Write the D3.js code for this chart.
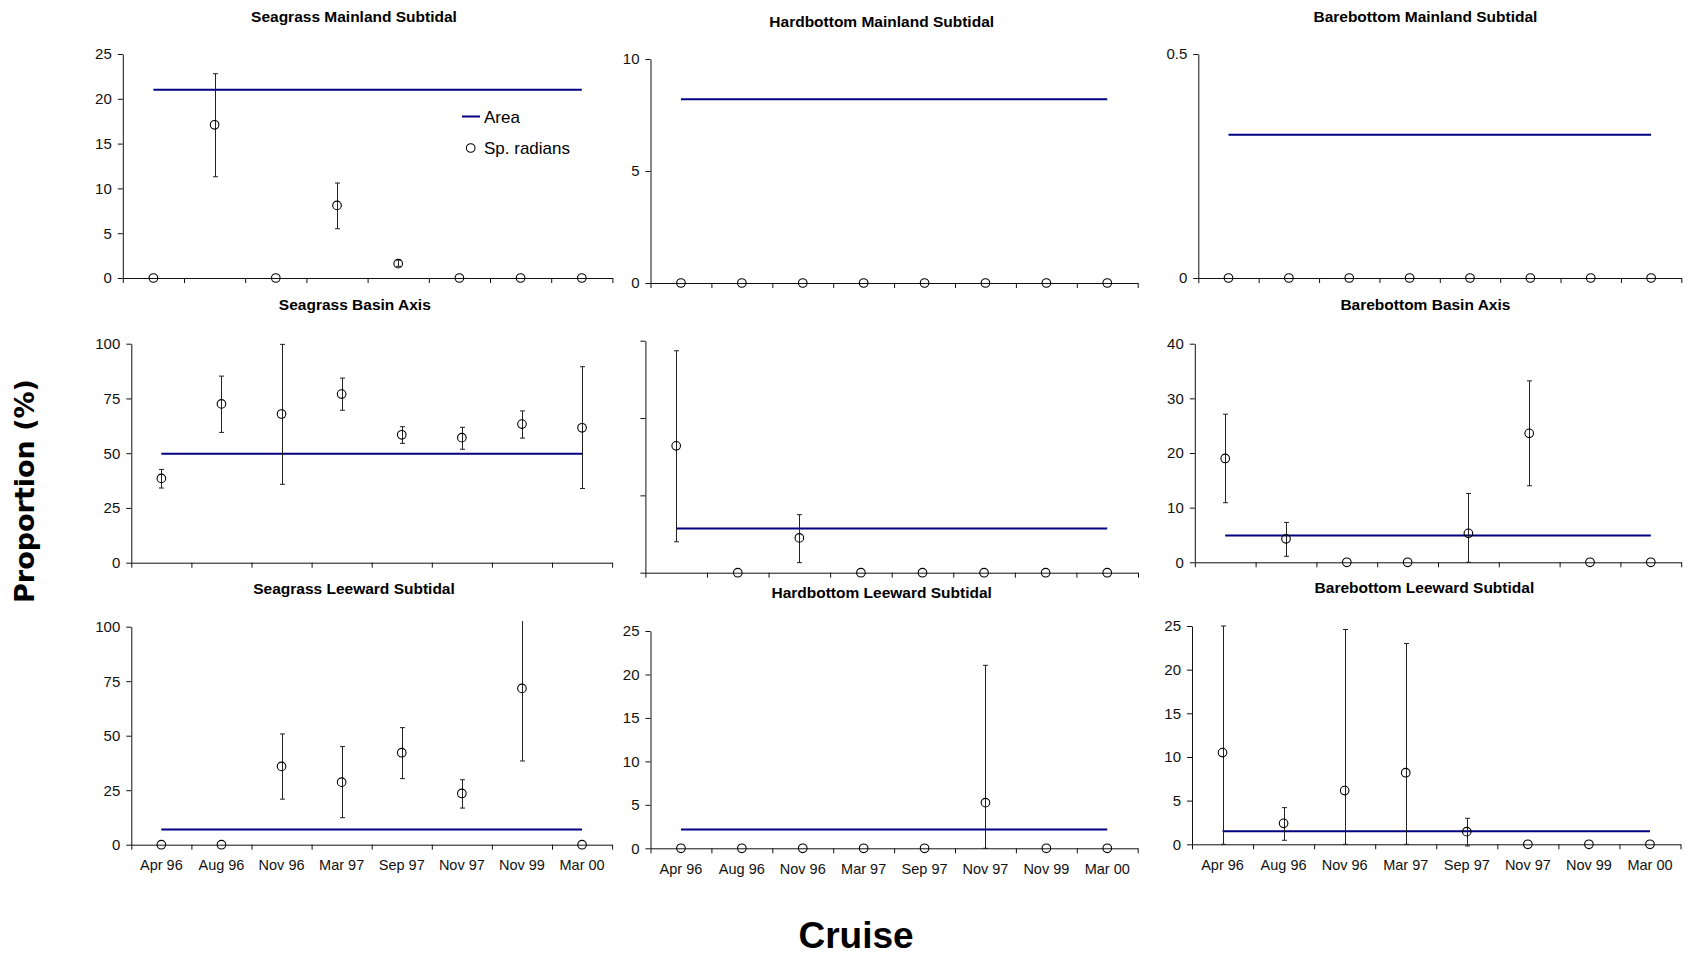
<!DOCTYPE html>
<html>
<head>
<meta charset="utf-8">
<script src="https://cdn.jsdelivr.net/npm/d3@7"></script>
<style>
  html, body { margin: 0; padding: 0; background: #fff; }
  svg { display: block; }
</style>
</head>
<body>
<svg id="chart" width="1687" height="956"></svg>
<script>
// Sampling cruises (shared x categories)
const categories = ["Apr 96", "Aug 96", "Nov 96", "Mar 97", "Sep 97", "Nov 97", "Nov 99", "Mar 00"];

// Seagrass Mainland Subtidal
const sgMainMean = [0, 17.1, 0, 8.1, 1.6, 0, 0, 0];
const sgMainLow  = [null, 11.3, null, 5.5, 1.3, null, null, null];
const sgMainHigh = [null, 22.8, null, 10.6, 2.0, null, null, null];
const sgMainArea = 21.0;
const sgMainTicks = [0, 5, 10, 15, 20, 25];

// Hardbottom Mainland Subtidal
const hbMainMean = [0, 0, 0, 0, 0, 0, 0, 0];
const hbMainLow  = [null, null, null, null, null, null, null, null];
const hbMainHigh = [null, null, null, null, null, null, null, null];
const hbMainArea = 8.2;
const hbMainTicks = [0, 5, 10];

// Barebottom Mainland Subtidal
const bbMainMean = [0, 0, 0, 0, 0, 0, 0, 0];
const bbMainLow  = [null, null, null, null, null, null, null, null];
const bbMainHigh = [null, null, null, null, null, null, null, null];
const bbMainArea = 0.32;
const bbMainTicks = [0, 0.5];

// Seagrass Basin Axis
const sgBasinMean = [38.5, 72.5, 67.9, 77.0, 58.4, 57.1, 63.3, 61.6];
const sgBasinLow  = [34.1, 59.5, 35.8, 69.6, 54.5, 51.8, 56.9, 33.9];
const sgBasinHigh = [42.6, 85.2, 99.7, 84.3, 62.1, 61.8, 69.3, 89.5];
const sgBasinArea = 49.8;
const sgBasinTicks = [0, 25, 50, 75, 100];

// Hardbottom Basin Axis (axis drawn without labels)
const hbBasinMean = [16.4, 0, 4.5, 0, 0, 0, 0, 0];
const hbBasinLow  = [4.0, null, 1.3, null, null, null, null, null];
const hbBasinHigh = [28.7, null, 7.5, null, null, null, null, null];
const hbBasinArea = 5.7;
const hbBasinTicks = [0, 10, 20, 30];

// Barebottom Basin Axis
const bbBasinMean = [19.0, 4.3, 0, 0, 5.3, 23.6, 0, 0];
const bbBasinLow  = [10.9, 1.1, null, null, 0, 14.0, null, null];
const bbBasinHigh = [27.1, 7.3, null, null, 12.6, 33.2, null, null];
const bbBasinArea = 4.9;
const bbBasinTicks = [0, 10, 20, 30, 40];

// Seagrass Leeward Subtidal
const sgLeeMean = [0, 0, 35.9, 28.7, 42.2, 23.5, 71.7, 0];
const sgLeeLow  = [null, null, 20.9, 12.4, 30.3, 16.8, 38.4, null];
const sgLeeHigh = [null, null, 50.8, 45.0, 53.7, 29.8, 102.6, null];
const sgLeeArea = 7.0;
const sgLeeTicks = [0, 25, 50, 75, 100];

// Hardbottom Leeward Subtidal
const hbLeeMean = [0, 0, 0, 0, 0, 5.25, 0, 0];
const hbLeeLow  = [null, null, null, null, null, 0, null, null];
const hbLeeHigh = [null, null, null, null, null, 21.05, null, null];
const hbLeeArea = 2.15;
const hbLeeTicks = [0, 5, 10, 15, 20, 25];

// Barebottom Leeward Subtidal
const bbLeeMean = [10.5, 2.4, 6.15, 8.2, 1.45, 0, 0, 0];
const bbLeeLow  = [0, 0.46, 0, 0, -0.19, null, null, null];
const bbLeeHigh = [25.0, 4.2, 24.6, 23.0, 2.98, null, null, null];
const bbLeeArea = 1.5;
const bbLeeTicks = [0, 5, 10, 15, 20, 25];

const legendLabels = ["Area", "Sp. radians"];

// Panel definitions built from the arrays above
const panels = [
  { title: "Seagrass Mainland Subtidal",  mean: sgMainMean,  low: sgMainLow,  high: sgMainHigh,  area: sgMainArea,  ticks: sgMainTicks },
  { title: "Hardbottom Mainland Subtidal", mean: hbMainMean, low: hbMainLow,  high: hbMainHigh,  area: hbMainArea,  ticks: hbMainTicks },
  { title: "Barebottom Mainland Subtidal", mean: bbMainMean, low: bbMainLow,  high: bbMainHigh,  area: bbMainArea,  ticks: bbMainTicks },
  { title: "Seagrass Basin Axis",         mean: sgBasinMean, low: sgBasinLow, high: sgBasinHigh, area: sgBasinArea, ticks: sgBasinTicks },
  { title: "",                            mean: hbBasinMean, low: hbBasinLow, high: hbBasinHigh, area: hbBasinArea, ticks: hbBasinTicks, hideLabels: true },
  { title: "Barebottom Basin Axis",       mean: bbBasinMean, low: bbBasinLow, high: bbBasinHigh, area: bbBasinArea, ticks: bbBasinTicks },
  { title: "Seagrass Leeward Subtidal",   mean: sgLeeMean,   low: sgLeeLow,   high: sgLeeHigh,   area: sgLeeArea,   ticks: sgLeeTicks },
  { title: "Hardbottom Leeward Subtidal", mean: hbLeeMean,   low: hbLeeLow,   high: hbLeeHigh,   area: hbLeeArea,   ticks: hbLeeTicks },
  { title: "Barebottom Leeward Subtidal", mean: bbLeeMean,   low: bbLeeLow,   high: bbLeeHigh,   area: bbLeeArea,   ticks: bbLeeTicks }
];

// Plot frames: left/right of x axis, top/bottom of y axis, title anchor
const frames = [
  { x0: 122.8, x1: 612.4, yTop: 54,    yBot: 278,   tx: 354,   ty: 22 },
  { x0: 650.5, x1: 1137.7, yTop: 59,   yBot: 283,   tx: 881.7, ty: 27 },
  { x0: 1198.3, x1: 1681.3, yTop: 54,  yBot: 278,   tx: 1425.4, ty: 22 },
  { x0: 131.3, x1: 612.1, yTop: 343.7, yBot: 562.7, tx: 354.8, ty: 310 },
  { x0: 645.4, x1: 1138,  yTop: 340.7, yBot: 572.7, tx: 881.7, ty: 310 },
  { x0: 1194.8, x1: 1681.2, yTop: 343.7, yBot: 562.3, tx: 1425.4, ty: 310 },
  { x0: 131.3, x1: 612.1, yTop: 626.7, yBot: 844.7, tx: 354,   ty: 594 },
  { x0: 650.5, x1: 1137.7, yTop: 631, yBot: 848.3, tx: 881.7, ty: 598 },
  { x0: 1192, x1: 1680.5, yTop: 626,   yBot: 844.3, tx: 1424.4, ty: 593 }
];

const svg = d3.select("#chart");
const AREA_COLOR = "#000080";
const INK = "#111";
const tickFont = "'Liberation Sans', Arial, sans-serif";

panels.forEach((p, i) => {
  const f = frames[i];
  const g = svg.append("g");
  const yMax = p.ticks[p.ticks.length - 1];

  const y = d3.scaleLinear().domain([0, yMax]).range([f.yBot, f.yTop]);
  const xBand = d3.scaleBand().domain(categories).range([f.x0, f.x1]).padding(0);
  const xIdx = d3.scaleLinear().domain([0, categories.length]).range([f.x0, f.x1]);
  const cx = c => xBand(c) + xBand.bandwidth() / 2;

  // y axis
  const yAxis = d3.axisLeft(y).tickValues(p.ticks).tickSize(5).tickSizeOuter(0).tickPadding(6)
    .tickFormat(p.hideLabels ? () => "" : d3.format("~g"));
  const ya = g.append("g").attr("transform", `translate(${f.x0},0)`).call(yAxis);

  // x axis with tick marks between categories
  const xAxis = d3.axisBottom(xIdx).tickValues(d3.range(categories.length + 1)).tickSize(5).tickSizeOuter(0).tickFormat(() => "");
  const xa = g.append("g").attr("transform", `translate(0,${f.yBot})`).call(xAxis);

  [ya, xa].forEach(a => {
    a.select(".domain").attr("stroke", INK);
    a.selectAll(".tick line").attr("stroke", INK);
    a.selectAll("text").attr("fill", INK).style("font-family", tickFont).style("font-size", "15px");
  });

  // category labels on the bottom row
  if (i >= 6) {
    const xl = g.append("g").attr("transform", `translate(0,${f.yBot})`)
      .call(d3.axisBottom(xBand).tickSize(0).tickPadding(15));
    xl.select(".domain").remove();
    xl.selectAll("text").attr("fill", INK).style("font-family", tickFont).style("font-size", "14.5px");
  }

  // habitat area line
  const line = d3.line().x(d => cx(d)).y(() => y(p.area));
  g.append("path").datum(categories).attr("d", line)
    .attr("fill", "none").attr("stroke", AREA_COLOR).attr("stroke-width", 2);

  // error bars
  const rows = categories.map((c, k) => ({ c, m: p.mean[k], lo: p.low[k], hi: p.high[k] }));
  const eb = g.append("g").attr("stroke", "#222").attr("stroke-width", 1);
  rows.filter(r => r.lo !== null && r.hi !== null).forEach(r => {
    const x = Math.round(cx(r.c)) + 0.5;
    eb.append("line").attr("x1", x).attr("x2", x).attr("y1", y(r.lo)).attr("y2", y(r.hi));
    [r.lo, r.hi].forEach(v => {
      if (v > yMax) return;
      eb.append("line").attr("x1", x - 2.5).attr("x2", x + 2.5).attr("y1", y(v)).attr("y2", y(v));
    });
  });

  // mean values
  g.append("g").selectAll("circle").data(rows).join("circle")
    .attr("cx", d => cx(d.c)).attr("cy", d => y(d.m)).attr("r", 4.3)
    .attr("fill", "none").attr("stroke", "#000").attr("stroke-width", 1.1);

  // panel title
  if (p.title) {
    svg.append("text").attr("x", f.tx).attr("y", f.ty).attr("text-anchor", "middle")
      .style("font-family", tickFont).style("font-weight", "bold").style("font-size", "15.5px")
      .attr("fill", "#000").text(p.title);
  }

  // legend in the first panel
  if (i === 0) {
    const lg = svg.append("g").style("font-family", tickFont).style("font-size", "17px");
    lg.append("line").attr("x1", 462).attr("x2", 480).attr("y1", 116.5).attr("y2", 116.5)
      .attr("stroke", AREA_COLOR).attr("stroke-width", 2);
    lg.append("text").attr("x", 484).attr("y", 122.5).attr("fill", "#000").text(legendLabels[0]);
    lg.append("circle").attr("cx", 470.7).attr("cy", 148).attr("r", 4.3)
      .attr("fill", "none").attr("stroke", "#000").attr("stroke-width", 1.1);
    lg.append("text").attr("x", 484).attr("y", 154).attr("fill", "#000").text(legendLabels[1]);
  }
});

// shared axis titles
svg.append("text")
  .attr("transform", "translate(34,491) rotate(-90)")
  .attr("text-anchor", "middle")
  .style("font-family", "'DejaVu Sans', Verdana, sans-serif").style("font-weight", "bold").style("font-size", "27px")
  .attr("fill", "#000").text("Proportion (%)");

svg.append("text")
  .attr("x", 856).attr("y", 947.5).attr("text-anchor", "middle")
  .style("font-family", tickFont).style("font-weight", "bold").style("font-size", "37px")
  .attr("fill", "#000").text("Cruise");
</script>
</body>
</html>
